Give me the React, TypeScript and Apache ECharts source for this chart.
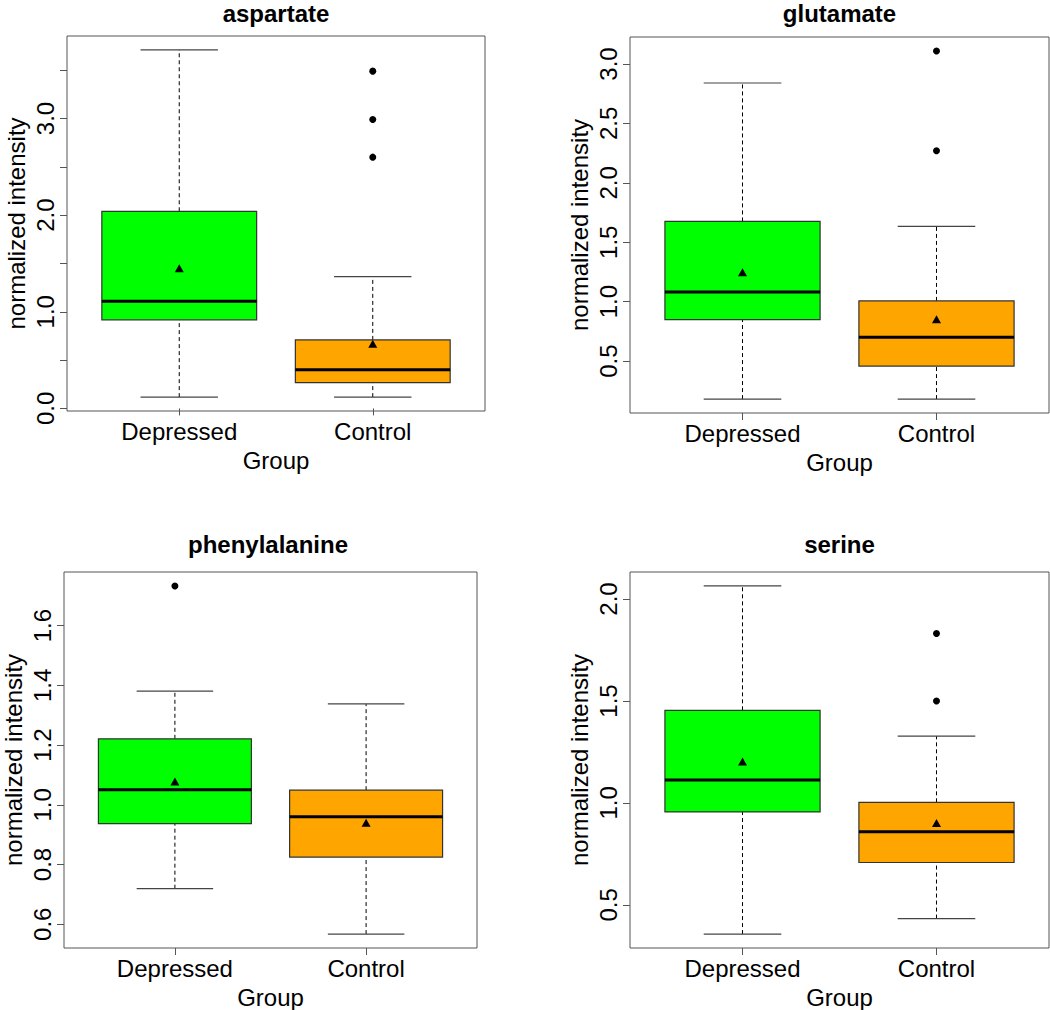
import React, { useEffect, useRef } from "react";
import * as echarts from "echarts";

// ---------- data ----------
const categories = ["Depressed", "Control"];
const boxColors = ["#00FF00", "#FFA500"];
const panelTitles = ["aspartate", "glutamate", "phenylalanine", "serine"];
const yAxisName = "normalized intensity";
const xAxisName = "Group";

// five-number summaries: [whisker low, Q1, median, Q3, whisker high]
const aspartateDepressed = [0.117, 0.917, 1.11, 2.04, 3.71];
const aspartateControl = [0.117, 0.267, 0.4, 0.709, 1.363];
const aspartateMeans = [1.45, 0.67];
const aspartateOutDepressed: number[] = [];
const aspartateOutControl = [2.6, 2.99, 3.49];
const aspartateTicks = [0, 0.5, 1, 1.5, 2, 2.5, 3, 3.5];
const aspartateLabels = [0, 1, 2, 3];

const glutamateDepressed = [0.18, 0.849, 1.082, 1.675, 2.84];
const glutamateControl = [0.18, 0.458, 0.7, 1.006, 1.633];
const glutamateMeans = [1.248, 0.852];
const glutamateOutDepressed: number[] = [];
const glutamateOutControl = [2.27, 3.11];
const glutamateTicks = [0.5, 1, 1.5, 2, 2.5, 3];
const glutamateLabels = [0.5, 1, 1.5, 2, 2.5, 3];

const phenylalanineDepressed = [0.719, 0.937, 1.05, 1.221, 1.381];
const phenylalanineControl = [0.567, 0.825, 0.96, 1.049, 1.338];
const phenylalanineMeans = [1.078, 0.94];
const phenylalanineOutDepressed = [1.733];
const phenylalanineOutControl: number[] = [];
const phenylalanineTicks = [0.6, 0.8, 1.0, 1.2, 1.4, 1.6];
const phenylalanineLabels = [0.6, 0.8, 1.0, 1.2, 1.4, 1.6];

const serineDepressed = [0.357, 0.956, 1.113, 1.454, 2.064];
const serineControl = [0.433, 0.708, 0.859, 1.003, 1.328];
const serineMeans = [1.203, 0.902];
const serineOutDepressed: number[] = [];
const serineOutControl = [1.5, 1.831];
const serineTicks = [0.5, 1, 1.5, 2];
const serineLabels = [0.5, 1, 1.5, 2];

// ---------- layout ----------
const grids = [
  { left: 67, top: 36, width: 418, height: 375 },
  { left: 630, top: 37, width: 419, height: 376 },
  { left: 59, top: 572, width: 418, height: 376 },
  { left: 630, top: 572, width: 419, height: 376 },
];
const titleY = [13.5, 13.5, 544.6, 544.6];

const FONT = "'Liberation Sans', Arial, Helvetica, sans-serif";

const panels = [
  { boxes: [aspartateDepressed, aspartateControl], means: aspartateMeans, outs: [aspartateOutDepressed, aspartateOutControl], ticks: aspartateTicks, labels: aspartateLabels },
  { boxes: [glutamateDepressed, glutamateControl], means: glutamateMeans, outs: [glutamateOutDepressed, glutamateOutControl], ticks: glutamateTicks, labels: glutamateLabels },
  { boxes: [phenylalanineDepressed, phenylalanineControl], means: phenylalanineMeans, outs: [phenylalanineOutDepressed, phenylalanineOutControl], ticks: phenylalanineTicks, labels: phenylalanineLabels },
  { boxes: [serineDepressed, serineControl], means: serineMeans, outs: [serineOutDepressed, serineOutControl], ticks: serineTicks, labels: serineLabels },
];

function buildOption() {
  const grid: any[] = [];
  const xAxis: any[] = [];
  const yAxis: any[] = [];
  const series: any[] = [];
  const graphic: any[] = [];

  panels.forEach((p, i) => {
    const g = grids[i];
    grid.push({ ...g, show: true, borderColor: "#555", borderWidth: 1, backgroundColor: "transparent" });

    const all: number[] = [];
    p.boxes.forEach((b) => all.push(...b));
    p.outs.forEach((o) => all.push(...o));
    const lo = Math.min(...all);
    const hi = Math.max(...all);
    const ext = (hi - lo) * 0.04;

    xAxis.push({
      type: "value",
      gridIndex: i,
      min: 0.42,
      max: 2.58,
      axisLine: { show: false },
      splitLine: { show: false },
      axisTick: { show: true, customValues: [1, 2], length: 7, lineStyle: { color: "#555", width: 1 } },
      axisLabel: {
        show: true,
        customValues: [1, 2],
        formatter: (v: number) => categories[Math.round(v) - 1],
        fontSize: 24,
        fontFamily: FONT,
        color: "#000",
        margin: 8,
      },
      name: xAxisName,
      nameLocation: "middle",
      nameGap: 37,
      nameTextStyle: { fontSize: 24, fontFamily: FONT, color: "#000" },
    });

    yAxis.push({
      type: "value",
      gridIndex: i,
      min: lo - ext,
      max: hi + ext,
      axisLine: { show: false },
      splitLine: { show: false },
      axisTick: { show: true, customValues: p.ticks, length: 7, lineStyle: { color: "#555", width: 1 } },
      axisLabel: {
        show: true,
        customValues: p.labels,
        formatter: (v: number) => v.toFixed(1),
        rotate: 90,
        fontSize: 24,
        fontFamily: FONT,
        color: "#000",
        margin: 10,
      },
      name: yAxisName,
      nameLocation: "middle",
      nameRotate: 90,
      nameGap: 39,
      nameTextStyle: { fontSize: 24, fontFamily: FONT, color: "#000" },
    });

    series.push({
      type: "custom",
      xAxisIndex: i,
      yAxisIndex: i,
      data: p.boxes.map((b, k) => [k + 1, ...b]),
      encode: { x: 0, y: [1, 2, 3, 4, 5] },
      renderItem: (params: any, api: any) => {
        const x = api.value(0);
        const v = [1, 2, 3, 4, 5].map((d) => api.value(d));
        const hw = 0.4;
        const cw = 0.2;
        const c = (xx: number, yy: number) => api.coord([xx, yy]);
        const tl = c(x - hw, v[3]);
        const br = c(x + hw, v[1]);
        const pLow = c(x, v[0]);
        const pQ1 = c(x, v[1]);
        const pQ3 = c(x, v[3]);
        const pHigh = c(x, v[4]);
        const capL = c(x - cw, v[0])[0];
        const capR = c(x + cw, v[0])[0];
        const medY = c(x, v[2])[1];
        const dash = { stroke: "#000", lineWidth: 1, lineDash: [4, 3], fill: null };
        const cap = { stroke: "#444", lineWidth: 1.2, fill: null };
        return {
          type: "group",
          children: [
            { type: "line", shape: { x1: pQ3[0], y1: pQ3[1], x2: pHigh[0], y2: pHigh[1] }, style: dash },
            { type: "line", shape: { x1: pLow[0], y1: pLow[1], x2: pQ1[0], y2: pQ1[1] }, style: dash },
            { type: "line", shape: { x1: capL, y1: pHigh[1], x2: capR, y2: pHigh[1] }, style: cap },
            { type: "line", shape: { x1: capL, y1: pLow[1], x2: capR, y2: pLow[1] }, style: cap },
            {
              type: "rect",
              shape: { x: tl[0], y: tl[1], width: br[0] - tl[0], height: br[1] - tl[1] },
              style: { fill: boxColors[params.dataIndex], stroke: "#333", lineWidth: 1.2 },
            },
            { type: "line", shape: { x1: tl[0], y1: medY, x2: br[0], y2: medY }, style: { stroke: "#000", lineWidth: 3, fill: null } },
          ],
        };
      },
      z: 2,
    });

    const outData: number[][] = [];
    p.outs.forEach((o, k) => o.forEach((val) => outData.push([k + 1, val])));
    series.push({
      type: "scatter",
      xAxisIndex: i,
      yAxisIndex: i,
      data: outData,
      symbol: "circle",
      symbolSize: 7,
      itemStyle: { color: "#000", opacity: 1 },
      z: 3,
    });
    series.push({
      type: "scatter",
      xAxisIndex: i,
      yAxisIndex: i,
      data: p.means.map((m, k) => [k + 1, m]),
      symbol: "triangle",
      symbolSize: [9, 8],
      itemStyle: { color: "#000", opacity: 1 },
      z: 3,
    });

    graphic.push({
      type: "text",
      x: g.left + g.width / 2,
      y: titleY[i],
      style: {
        text: panelTitles[i],
        font: `bold 24px ${FONT}`,
        fill: "#000",
        align: "center",
        verticalAlign: "middle",
      },
    });
  });

  return { animation: false, backgroundColor: "#fff", grid, xAxis, yAxis, series, graphic };
}

export default function App() {
  const ref = useRef<HTMLDivElement>(null);
  useEffect(() => {
    if (!ref.current) return;
    const chart = echarts.init(ref.current, null, { renderer: "svg" });
    chart.setOption(buildOption() as any);
    return () => chart.dispose();
  }, []);
  return (
    <div
      ref={ref}
      style={{ position: "absolute", left: 0, top: 0, width: 1050, height: 1010, background: "#fff" }}
    />
  );
}
